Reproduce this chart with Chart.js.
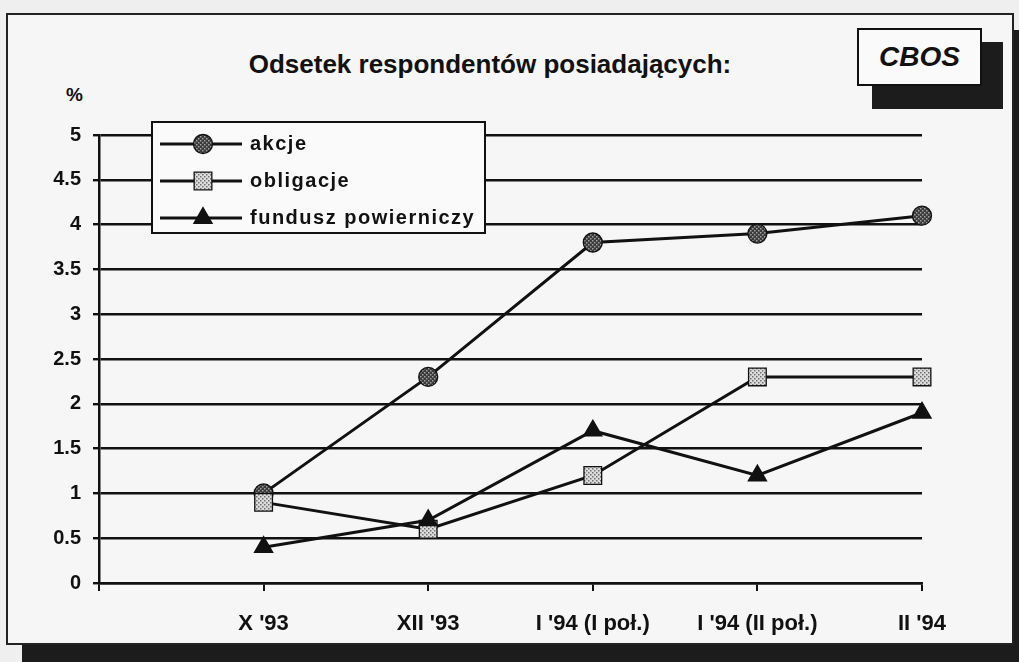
<!DOCTYPE html>
<html>
<head>
<meta charset="utf-8">
<script src="https://cdn.jsdelivr.net/npm/chart.js"></script>
<style>
  html, body { margin: 0; padding: 0; }
  body { width: 1019px; height: 662px; background: #efefef; position: relative; overflow: hidden; font-family: "Liberation Sans", Arial, sans-serif; }
  .frame { position: absolute; left: 6px; top: 13px; width: 1004px; height: 628px; border: 2px solid #222; background: #f6f6f6; }
  .shadow-r { position: absolute; left: 1012px; top: 30px; width: 7px; height: 632px; background: #1c1c1c; }
  .shadow-b { position: absolute; left: 22px; top: 645px; width: 997px; height: 17px; background: #1c1c1c; }
  .title { position: absolute; left: 0; width: 980px; top: 49px; text-align: center; font-weight: bold; font-size: 26px; color: #111; }
  .pct { position: absolute; left: 66px; top: 84px; font-weight: bold; font-size: 19px; color: #111; }
  .logo-sh { position: absolute; left: 872px; top: 42px; width: 131px; height: 67px; background: #1c1c1c; }
  .logo { position: absolute; left: 857px; top: 28px; width: 121px; height: 54px; border: 2px solid #111; background: #fafafa; text-align: center; line-height: 54px; font-weight: bold; font-style: italic; font-size: 28px; color: #111; }
  canvas { position: absolute; left: 0; top: 0; }
</style>
</head>
<body>
<div class="shadow-r"></div>
<div class="shadow-b"></div>
<div class="frame"></div>
<div class="title">Odsetek respondentów posiadających:</div>
<div class="pct">%</div>
<div class="logo-sh"></div>
<div class="logo">CBOS</div>
<canvas id="chart" width="1019" height="662"></canvas>
<script>
// categories and values
var categories = ["X '93", "XII '93", "I '94 (I poł.)", "I '94 (II poł.)", "II '94"];
var akcje = [1.0, 2.3, 3.8, 3.9, 4.1];
var obligacje = [0.9, 0.6, 1.2, 2.3, 2.3];
var fundusz = [0.4, 0.7, 1.7, 1.2, 1.9];
var seriesNames = ['akcje', 'obligacje', 'fundusz powierniczy'];

// stippled fills like the printed markers
function makePattern(bg, dot) {
    var c = document.createElement('canvas');
    c.width = 4; c.height = 4;
    var g = c.getContext('2d');
    g.fillStyle = bg; g.fillRect(0, 0, 4, 4);
    g.fillStyle = dot; g.fillRect(0, 0, 1.5, 1.5); g.fillRect(2, 2, 1.5, 1.5);
    return g.createPattern(c, 'repeat');
}
var ctx = document.getElementById('chart').getContext('2d');
var darkDots = makePattern('#3a3a3a', '#a0a0a0');
var lightDots = makePattern('#dcdcdc', '#707070');

function toPoints(arr) {
    return arr.map(function (v, i) { return { x: i + 1, y: v }; });
}

function ds(label, values, style, radius, fill, order) {
    return {
        label: label,
        data: toPoints(values),
        borderColor: '#111',
        borderWidth: 3,
        pointStyle: style,
        pointRadius: radius,
        pointHoverRadius: radius,
        pointBackgroundColor: fill,
        pointBorderColor: '#111',
        pointBorderWidth: 1.3,
        tension: 0,
        clip: false,
        order: order
    };
}

// legend box drawn inside the plot, over the grid lines
var boxLegend = {
    id: 'boxLegend',
    afterDraw: function (chart) {
        var c = chart.ctx;
        var bx = 152, by = 122, bw = 333, bh = 111;
        c.save();
        c.fillStyle = '#fafafa';
        c.fillRect(bx, by, bw, bh);
        c.strokeStyle = '#111';
        c.lineWidth = 2;
        c.strokeRect(bx, by, bw, bh);
        chart.data.datasets.forEach(function (d, i) {
            var y = by + 22 + i * 37;
            c.strokeStyle = '#111';
            c.lineWidth = 3;
            c.beginPath(); c.moveTo(160, y); c.lineTo(242, y); c.stroke();
            c.fillStyle = d.pointBackgroundColor;
            c.strokeStyle = '#111';
            c.lineWidth = d.pointBorderWidth;
            Chart.helpers.drawPoint(c, { pointStyle: d.pointStyle, radius: d.pointRadius, borderWidth: d.pointBorderWidth, rotation: 0 }, 203, y);
            c.fillStyle = '#111';
            c.font = 'bold 20px "Liberation Sans", Arial, sans-serif';
            c.letterSpacing = '1.5px';
            c.textBaseline = 'middle';
            c.fillText(seriesNames[i], 250, y);
        });
        c.restore();
    }
};

new Chart(ctx, {
    type: 'line',
    data: {
        datasets: [
            ds(seriesNames[0], akcje, 'circle', 9.5, darkDots, 3),
            ds(seriesNames[1], obligacje, 'rect', 12.5, lightDots, 2),
            ds(seriesNames[2], fundusz, 'triangle', 10.5, '#111', 1)
        ]
    },
    options: {
        responsive: false,
        animation: false,
        layout: { padding: { left: 41, right: 97, top: 135, bottom: 25 } },
        plugins: { legend: { display: false }, tooltip: { enabled: false }, title: { display: false } },
        scales: {
            x: {
                type: 'linear',
                min: 0,
                max: 5,
                afterFit: function (s) { s.height = 54; },
                ticks: {
                    stepSize: 1,
                    padding: 20,
                    color: '#111',
                    font: { family: '"Liberation Sans", Arial', size: 22, weight: 'bold' },
                    callback: function (v) { return v >= 1 ? categories[v - 1] : ''; }
                },
                grid: { drawOnChartArea: false, drawTicks: true, tickLength: 8, color: '#111', lineWidth: 2 },
                border: { display: true, color: '#111', width: 2.5 }
            },
            y: {
                min: 0,
                max: 5,
                afterFit: function (s) { s.width = 58; },
                ticks: {
                    stepSize: 0.5,
                    padding: 12,
                    color: '#111',
                    font: { family: '"Liberation Sans", Arial', size: 20, weight: 'bold' },
                    callback: function (v) { return String(v); }
                },
                grid: { color: '#111', lineWidth: 2.4, drawTicks: true, tickLength: 6 },
                border: { display: true, color: '#111', width: 2.5 }
            }
        }
    },
    plugins: [boxLegend]
});
</script>
</body>
</html>
